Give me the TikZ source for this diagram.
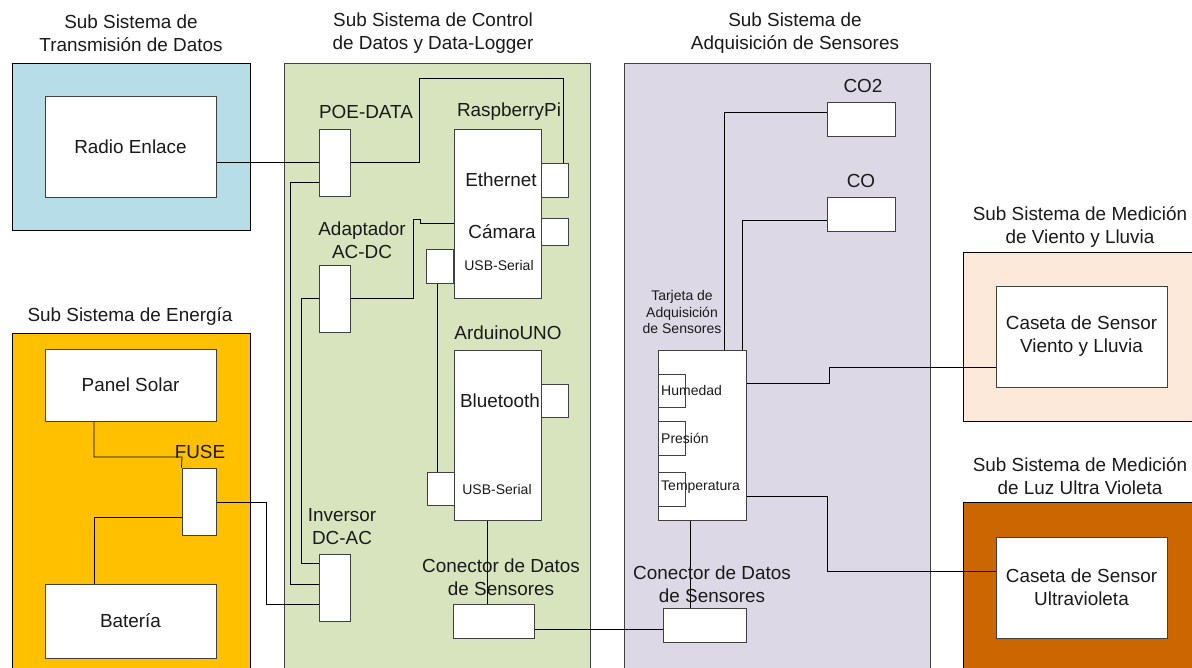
\documentclass[tikz,border=0pt]{standalone}
\usepackage{fontspec}
\setmainfont{Liberation Sans}
\usetikzlibrary{calc}
\pgfdeclarelayer{frames}
\pgfdeclarelayer{wires}
\pgfsetlayers{frames,wires,main}
\definecolor{transblue}{HTML}{B7DDE8}
\definecolor{energybg}{HTML}{FFC000}
\definecolor{ctrlgreen}{HTML}{D7E4BD}
\definecolor{adqpurple}{HTML}{DDD8E5}
\definecolor{vientobg}{HTML}{FDE9D9}
\definecolor{uvbg}{HTML}{CC6600}
\definecolor{edgegray}{HTML}{404040}
\definecolor{txt}{HTML}{1A1A1A}
\newcommand\bigtxt{\fontsize{18.9}{23}\selectfont}
\newcommand\smalltxt{\fontsize{14}{16.5}\selectfont}
\begin{document}
\begin{tikzpicture}[x=1pt,y=-1pt,
  frame/.style={draw=black, line width=0.9pt, rectangle, inner sep=0pt},
  box/.style={draw=edgegray, fill=white, line width=0.9pt, rectangle, inner sep=0pt, font=\bigtxt, text=txt, align=center},
  port/.style={draw=edgegray, fill=white, line width=0.9pt, rectangle, inner sep=0pt},
  title/.style={font=\bigtxt, text=txt, align=center, inner sep=0pt},
  smalllbl/.style={font=\smalltxt, text=txt, align=center, inner sep=0pt},
  wire/.style={draw=black, line width=0.8pt}]
\useasboundingbox (0,0) rectangle (1192,667);

% ---------- frames ----------
\begin{pgfonlayer}{frames}
\fill[white] (0,0) rectangle (1192,667);
\node[frame, fill=transblue, minimum width=238, minimum height=167] (ftrans) at (131,146.5) {};
\node[frame, fill=energybg, minimum width=238, minimum height=340] (fenergy) at (131,503) {};
\node[frame, draw=edgegray, fill=ctrlgreen, minimum width=306, minimum height=610] (fctrl) at (437,368) {};
\node[frame, draw=edgegray, fill=adqpurple, minimum width=306, minimum height=610] (fadq) at (777,368) {};
\node[frame, fill=vientobg, minimum width=235, minimum height=169] (fviento) at (1080.5,336.5) {};
\node[frame, fill=uvbg, minimum width=235, minimum height=170] (fuv) at (1080.5,587) {};
\end{pgfonlayer}

% ---------- titles ----------
\node[title] (t1) at (131,33.5) {Sub Sistema de\\Transmisión de Datos};
\node[title] (t2) at (130,316) {Sub Sistema de Energía};
\node[title] (t3) at (433,33.5) {Sub Sistema de Control\\de Datos y Data-Logger};
\node[title] (t4) at (795,33.5) {Sub Sistema de\\Adquisición de Sensores};
\node[title] (t5) at (1080,227) {Sub Sistema de Medición\\de Viento y Lluvia};
\node[title] (t6) at (1080,476) {Sub Sistema de Medición\\de Luz Ultra Violeta};

% ---------- energy / transmission ----------
\node[box, minimum width=171, minimum height=101] (radio) at (130.5,146.5) {Radio Enlace};
\node[box, minimum width=171, minimum height=72] (solar) at (130.5,385) {Panel Solar};
\node[box, minimum width=171, minimum height=74] (bat) at (130.5,621) {Batería};
\node[port, minimum width=34, minimum height=67] (fuse) at (199,501.5) {};

% ---------- control ----------
\node[port, minimum width=31, minimum height=67] (poe) at (334.5,162.5) {};
\node[port, minimum width=31, minimum height=67] (adapt) at (334.5,299) {};
\node[port, minimum width=31, minimum height=67] (inv) at (334.5,587.5) {};
\node[port, minimum width=87, minimum height=169] (rpi) at (497.5,213.5) {};
\node[port, minimum width=27, minimum height=34] (eth) at (554.5,180) {};
\node[port, minimum width=27, minimum height=27] (cam) at (554.5,231.5) {};
\node[port, minimum width=27, minimum height=34] (rusb) at (440,266) {};
\node[port, minimum width=87, minimum height=170] (ard) at (497.5,435) {};
\node[port, minimum width=27, minimum height=33] (bt) at (554.5,400.5) {};
\node[port, minimum width=27, minimum height=33] (ausb) at (440.5,488.5) {};
\node[port, minimum width=81, minimum height=34] (gcon) at (494,621) {};

% ---------- acquisition ----------
\node[port, minimum width=88, minimum height=170] (tarj) at (702,435) {};
\node[port, minimum width=27, minimum height=33] (hum) at (671.5,390.5) {};
\node[port, minimum width=27, minimum height=34] (pres) at (671.5,438) {};
\node[port, minimum width=27, minimum height=34] (temp) at (671.5,489) {};
\node[port, minimum width=68, minimum height=34] (co2) at (861,119) {};
\node[port, minimum width=68, minimum height=34] (co) at (861,214) {};
\node[port, minimum width=83, minimum height=34] (pcon) at (704.5,625) {};

% ---------- right ----------
\node[box, minimum width=171, minimum height=101] (cviento) at (1081.5,336.5) {Caseta de Sensor\\Viento y Lluvia};
\node[box, minimum width=171, minimum height=101] (cuv) at (1081.5,587.5) {Caseta de Sensor\\Ultravioleta};

% ---------- labels ----------
\node[title] (lfuse) at (200,452) {FUSE};
\node[title] (lpoe) at (366,112) {POE-DATA};
\node[title] (ladapt) at (362,240) {Adaptador\\AC-DC};
\node[title] (linv) at (342,527) {Inversor\\DC-AC};
\node[title] (lrpi) at (509,112) {RaspberryPi};
\node[title] (leth) at (501,180) {Ethernet};
\node[title] (lcam) at (502,231.5) {Cámara};
\node[smalllbl] (lrusb) at (499,265.5) {USB-Serial};
\node[title] (lard) at (508,333) {ArduinoUNO};
\node[title] (lbt) at (500,400.5) {Bluetooth};
\node[smalllbl] (lausb) at (497,489) {USB-Serial};
\node[title] (lgcon) at (501,577) {Conector de Datos\\de Sensores};
\node[title] (lpcon) at (712,584) {Conector de Datos\\de Sensores};
\node[smalllbl] (ltarj) at (682,312) {Tarjeta de\\Adquisición\\de Sensores};
\node[smalllbl, anchor=west] (lhum) at (661,390.5) {Humedad};
\node[smalllbl, anchor=west] (lpres) at (661,438) {Presión};
\node[smalllbl, anchor=west] (ltemp) at (661,487.5) {Temperatura};
\node[title] (lco2) at (863,86) {CO2};
\node[title] (lco) at (861,181) {CO};

% ---------- wires ----------
\begin{pgfonlayer}{wires}
\draw[wire] (radio.east |- poe) -- (poe.west);
\draw[wire] (poe.east) -- (419,162.5) -- (419,78) -- (563,78) -- (eth.north -| 563,0);
\draw[wire] (poe.west |- 0,182) -- (290,182) -- (290,584) -- (inv.west |- 0,584);
\draw[wire] (rpi.west |- 0,223) -- (420,223) -- (420,219) -- (413,219) -- (413,298) -- (adapt.east |- 0,298);
\draw[wire] (adapt.west |- 0,298) -- (301,298) -- (301,563) -- (inv.west |- 0,563);
\draw[wire] (fuse.east |- 0,502) -- (266,502) -- (266,604) -- (inv.west |- 0,604);
\draw[wire] (solar.south -| 94,0) -- (94,457) -- (182,457) -- (fuse.north west);
\draw[wire] (bat.north -| 94,0) -- (94,517) -- (fuse.west |- 0,517);
\draw[wire] (rusb.south -| 437,0) -- (ausb.north -| 437,0);
\draw[wire] (ard.south -| 487,0) -- (gcon.north -| 487,0);
\draw[wire] (gcon.east |- 0,629) -- (pcon.west |- 0,629);
\draw[wire] (tarj.south -| 690,0) -- (pcon.north -| 690,0);
\draw[wire] (co2.west |- 0,112) -- (724,112) -- (tarj.north -| 724,0);
\draw[wire] (co.west |- 0,220) -- (742,220) -- (tarj.north -| 742,0);
\draw[wire] (tarj.east |- 0,383) -- (829,383) -- (829,367) -- (cviento.west |- 0,367);
\draw[wire] (tarj.east |- 0,496) -- (827,496) -- (827,571) -- (cuv.west |- 0,571);
\end{pgfonlayer}
\end{tikzpicture}
\end{document}
